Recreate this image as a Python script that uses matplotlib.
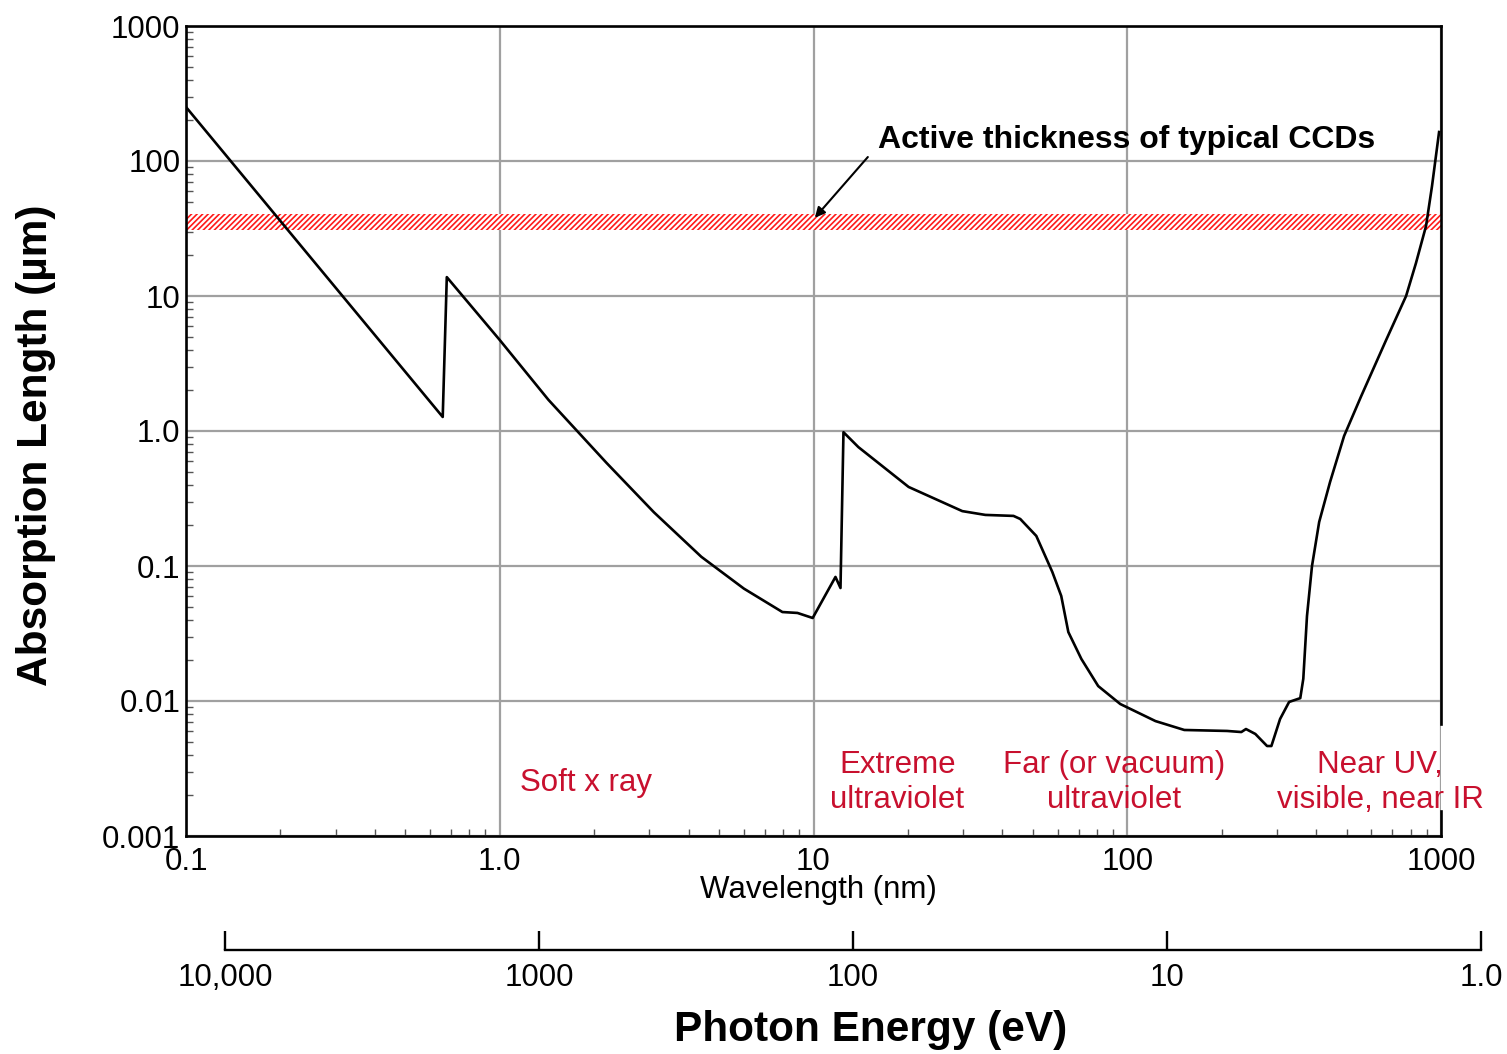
import numpy as np
import matplotlib
matplotlib.use("Agg")
import matplotlib.pyplot as plt
from matplotlib.ticker import FixedLocator, NullFormatter, LogLocator

plt.rcParams['font.family'] = ['Liberation Sans', 'DejaVu Sans']
plt.rcParams['hatch.linewidth'] = 1.2

wavelength_nm = [0.1, 0.658, 0.678, 1.0, 1.43, 2.19, 3.1, 4.39, 6.0, 7.96, 8.89, 9.94,
                 11.75, 12.19, 12.46, 13.9, 20.1, 29.8, 35.3, 43.4, 45.6, 51.3,
                 57.7, 61.6, 64.9, 71.4, 80.8, 95.0, 123, 152, 208, 231,
                 239, 256, 279, 288, 307, 328, 356, 364, 374, 388,
                 409, 443, 491, 556, 668, 774, 832, 896, 936, 986]
absorption_um = [251, 1.27, 13.8, 4.72, 1.70, 0.58, 0.25, 0.117, 0.068, 0.0456, 0.0449, 0.0412,
                 0.083, 0.0687, 0.98, 0.76, 0.385, 0.255, 0.239, 0.235, 0.223, 0.167,
                 0.0903, 0.060, 0.0324, 0.0205, 0.0129, 0.0095, 0.0071, 0.0061, 0.0060, 0.00589,
                 0.0062, 0.0057, 0.00464, 0.00464, 0.00736, 0.00984, 0.0105, 0.0146, 0.0426, 0.100,
                 0.212, 0.419, 0.918, 1.80, 4.7, 10.0, 17.5, 33, 65, 164]

# CCD active thickness band (um)...............................................
ccd_low, ccd_high = 30.8, 40.5

# axis ticks...................................................................
x_ticks = [0.1, 1, 10, 100, 1000]
x_labels = ["0.1", "1.0", "10", "100", "1000"]
y_ticks = [0.001, 0.01, 0.1, 1, 10, 100, 1000]
y_labels = ["0.001", "0.01", "0.1", "1.0", "10", "100", "1000"]
e_ticks = [10000, 1000, 100, 10, 1]
e_labels = ["10,000", "1000", "100", "10", "1.0"]

# spectral regions.............................................................
region_names = ["Soft x ray", "Extreme\nultraviolet", "Far (or vacuum)\nultraviolet",
                "Near UV,\nvisible, near IR"]
region_x = [1.89, 18.5, 90.9, 640]

red = "#c8102e"
W, H = 1507, 1054

fig = plt.figure(figsize=(W / 100, H / 100), dpi=100)
ax = fig.add_axes([186 / W, 1 - 836 / H, (1441 - 186) / W, (836 - 26) / H])
ax.set_xscale("log")
ax.set_yscale("log")
ax.set_xlim(0.1, 1000)
ax.set_ylim(0.001, 1000)

ax.grid(True, which="major", color="#a0a0a0", linewidth=1.6, zorder=0)
ax.set_axisbelow(True)

ax.axhspan(ccd_low, ccd_high, facecolor="white", edgecolor="#ff1a1a",
           hatch="//////", linewidth=0, zorder=2)
ax.plot(wavelength_nm, absorption_um, color="black", linewidth=1.9, zorder=3)

# ticks.......................................................................
ax.xaxis.set_major_locator(FixedLocator(x_ticks))
ax.set_xticklabels(x_labels)
ax.yaxis.set_major_locator(FixedLocator(y_ticks))
ax.set_yticklabels(y_labels)
ax.xaxis.set_minor_locator(LogLocator(base=10, subs=np.arange(2, 10), numticks=20))
ax.yaxis.set_minor_locator(LogLocator(base=10, subs=np.arange(2, 10), numticks=20))
ax.xaxis.set_minor_formatter(NullFormatter())
ax.yaxis.set_minor_formatter(NullFormatter())
ax.tick_params(which="both", direction="in", top=False, right=False,
               labelsize=22.5, color="#555555")
ax.tick_params(which="major", length=0, pad=8)
ax.tick_params(which="minor", length=5, width=1)
ax.tick_params(axis="y", pad=4)

for s in ax.spines.values():
    s.set_linewidth(1.9)
# right spine is broken where the last label sits
ax.spines["right"].set_bounds(0.0067, 1000)
ax.plot([1, 1], [0, 0.031], transform=ax.transAxes, color="black",
        linewidth=1.9, clip_on=False, zorder=4)

# labels......................................................................
for name, xr in zip(region_names, region_x):
    ax.text(xr, 0.00248, name, color=red, fontsize=22.5, ha="center",
            va="center", multialignment="center", zorder=5)

ax.text(16.0, 142, "Active thickness of typical CCDs", fontsize=23,
        fontweight="bold", va="center", ha="left")
ax.annotate("", xy=(10.1, 38), xytext=(14.9, 107),
            arrowprops=dict(arrowstyle="-|>", color="black", lw=1.5,
                            mutation_scale=15, shrinkA=0, shrinkB=0))

fig.text(818 / W, 1 - 890 / H, "Wavelength (nm)", fontsize=22.5,
         ha="center", va="center")
fig.text(36 / W, 1 - 445 / H, "Absorption Length (\u00b5m)", fontsize=30.5,
         fontweight="bold", rotation=90, ha="center", va="center")

# photon energy axis..........................................................
ax2 = fig.add_axes([225 / W, 1 - 950 / H, (1481 - 225) / W, 0.03])
ax2.set_facecolor("none")
ax2.set_xscale("log")
ax2.set_xlim(10000, 1)
for side in ["top", "left", "right"]:
    ax2.spines[side].set_visible(False)
ax2.spines["bottom"].set_linewidth(1.7)
ax2.set_yticks([])
ax2.xaxis.set_major_locator(FixedLocator(e_ticks))
ax2.set_xticklabels(e_labels)
ax2.xaxis.set_minor_locator(FixedLocator([]))
ax2.tick_params(axis="x", direction="in", length=14, width=1.7, pad=9,
                labelsize=22.5)

fig.text(871 / W, 1 - 1030 / H, "Photon Energy (eV)", fontsize=30.5,
         fontweight="bold", ha="center", va="center")

fig.savefig("out.png", dpi=100)
